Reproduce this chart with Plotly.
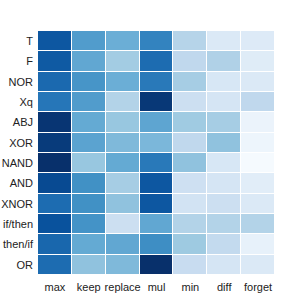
import plotly.graph_objects as go

rows = ["T", "F", "NOR", "Xq", "ABJ", "XOR", "NAND", "AND", "XNOR", "if/then", "then/if", "OR"]
cols = ["max", "keep", "replace", "mul", "min", "diff", "forget"]

T_vals      = [0.85, 0.58, 0.50, 0.68, 0.30, 0.14, 0.13]
F_vals      = [0.84, 0.53, 0.36, 0.77, 0.27, 0.32, 0.12]
NOR_vals    = [0.78, 0.61, 0.50, 0.72, 0.35, 0.16, 0.14]
Xq_vals     = [0.73, 0.58, 0.31, 0.97, 0.22, 0.17, 0.27]
ABJ_vals    = [0.98, 0.52, 0.39, 0.54, 0.37, 0.35, 0.06]
XOR_vals    = [0.96, 0.55, 0.45, 0.46, 0.27, 0.41, 0.05]
NAND_vals   = [1.00, 0.39, 0.52, 0.72, 0.41, 0.16, 0.01]
AND_vals    = [0.90, 0.63, 0.35, 0.85, 0.21, 0.17, 0.11]
XNOR_vals   = [0.77, 0.63, 0.41, 0.85, 0.19, 0.22, 0.14]
ifthen_vals = [0.87, 0.62, 0.22, 0.53, 0.31, 0.31, 0.31]
thenif_vals = [0.79, 0.52, 0.53, 0.64, 0.375, 0.26, 0.08]
OR_vals     = [0.77, 0.41, 0.45, 1.00, 0.24, 0.17, 0.14]

z = [T_vals, F_vals, NOR_vals, Xq_vals, ABJ_vals, XOR_vals, NAND_vals,
     AND_vals, XNOR_vals, ifthen_vals, thenif_vals, OR_vals]

blues = ['rgb(247,251,255)', 'rgb(222,235,247)', 'rgb(198,219,239)', 'rgb(158,202,225)',
         'rgb(107,174,214)', 'rgb(66,146,198)', 'rgb(33,113,181)', 'rgb(8,81,156)', 'rgb(8,48,107)']
cs = [[i / (len(blues) - 1), c] for i, c in enumerate(blues)]

fig = go.Figure(go.Heatmap(
    z=z, x=cols, y=rows, colorscale=cs, zmin=0, zmax=1,
    showscale=False, xgap=1, ygap=1,
))
fig.update_layout(
    width=306, height=306,
    margin=dict(l=38, r=31, t=31, b=31),
    plot_bgcolor="white", paper_bgcolor="white",
    font=dict(family="Liberation Sans, Arial, sans-serif", size=11, color="#222"),
)
fig.update_yaxes(autorange="reversed", showgrid=False, zeroline=False, ticks="",
                 ticklabelstandoff=4, automargin=False)
fig.update_xaxes(showgrid=False, zeroline=False, ticks="", ticklabelstandoff=4,
                 automargin=False)
fig.write_html("out.html", config={"displayModeBar": False},
               post_script="document.body.style.margin='0';document.body.style.overflow='hidden';")
